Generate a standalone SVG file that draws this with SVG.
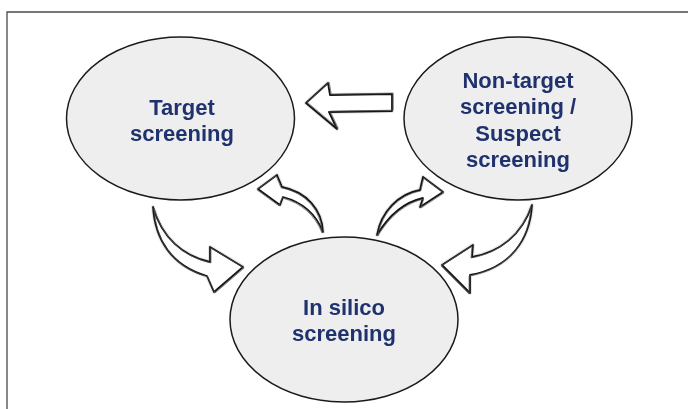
<svg xmlns="http://www.w3.org/2000/svg" width="688" height="409" viewBox="0 0 688 409">
  <style>
    .frame { fill: none; stroke: #4a4a4a; stroke-width: 1.3; }
    .node ellipse { fill: #eeeeee; stroke: #1a1a1a; stroke-width: 1.5; }
    .label { font-family: "Liberation Sans", Arial, sans-serif; font-weight: bold; font-size: 22px; fill: #1f326e; text-anchor: middle; }
    .smudge { fill: none; stroke: #9a9a9a; stroke-width: 4; stroke-opacity: 0.25; stroke-linejoin: round; }
    .ink { fill: #ffffff; stroke: #151515; stroke-width: 1.8; stroke-linejoin: round; }
    .ink2 { fill: none; stroke: #555555; stroke-width: 1; stroke-opacity: 0.7; stroke-linejoin: round; }
  </style>
  <defs>
    <filter id="soft" x="-10%" y="-10%" width="120%" height="120%">
      <feGaussianBlur stdDeviation="0.45"/>
    </filter>
    <!-- hand-drawn arrow outlines -->
    <path id="arrowLeft" d="M306,103 L328,83 L330,95 L392,94 L392,111 L329,112 L337,129 Z"/>
    <path id="arrowTS" d="M153,207 C155,240 172,266 207,276 L214,292 L243,267 L210,247 L210,262 C183,256 162,238 153,207 Z"/>
    <path id="arrowST" d="M323,232 C322,210 307,192 282,187 L277,175 L258,189 L280,205 L283,197 C302,202 316,214 323,232 Z"/>
    <path id="arrowSN" d="M377,235 C381,212 398,194 420,190 L423,177 L443,192 L420,207 L423,198 C405,202 389,215 377,235 Z"/>
    <path id="arrowNS" d="M532,205 C530,240 510,268 470,275 L470,293 L442,265 L473,245 L472,257 C500,252 522,235 532,205 Z"/>
  </defs>

  <rect width="688" height="409" fill="#ffffff"/>
  <path class="frame" d="M7,409 L7,12 L688,12"/>

  <g id="connectors" filter="url(#soft)">
    <use href="#arrowLeft" class="smudge"/>
    <use href="#arrowLeft" class="ink"/>
    <use href="#arrowLeft" class="ink2" transform="translate(1.2,-0.8)"/>
    <use href="#arrowTS" class="smudge"/>
    <use href="#arrowTS" class="ink"/>
    <use href="#arrowTS" class="ink2" transform="translate(1,1)"/>
    <use href="#arrowST" class="smudge"/>
    <use href="#arrowST" class="ink"/>
    <use href="#arrowST" class="ink2" transform="translate(-1,0.8)"/>
    <use href="#arrowSN" class="smudge"/>
    <use href="#arrowSN" class="ink"/>
    <use href="#arrowSN" class="ink2" transform="translate(0.8,1)"/>
    <use href="#arrowNS" class="smudge"/>
    <use href="#arrowNS" class="ink"/>
    <use href="#arrowNS" class="ink2" transform="translate(-1,1)"/>
  </g>

  <g id="target-screening" class="node">
    <ellipse cx="180.5" cy="118.5" rx="114" ry="81.5"/>
    <text class="label" x="182" y="115">Target</text>
    <text class="label" x="182" y="140.5">screening</text>
  </g>

  <g id="non-target-screening" class="node">
    <ellipse cx="518" cy="118.5" rx="114" ry="81.5"/>
    <text class="label" x="518" y="88">Non-target</text>
    <text class="label" x="518" y="114">screening /</text>
    <text class="label" x="518" y="140.5">Suspect</text>
    <text class="label" x="518" y="167">screening</text>
  </g>

  <g id="in-silico-screening" class="node">
    <ellipse cx="344" cy="319.5" rx="114" ry="82.5"/>
    <text class="label" x="344" y="315">In silico</text>
    <text class="label" x="344" y="341">screening</text>
  </g>
</svg>
